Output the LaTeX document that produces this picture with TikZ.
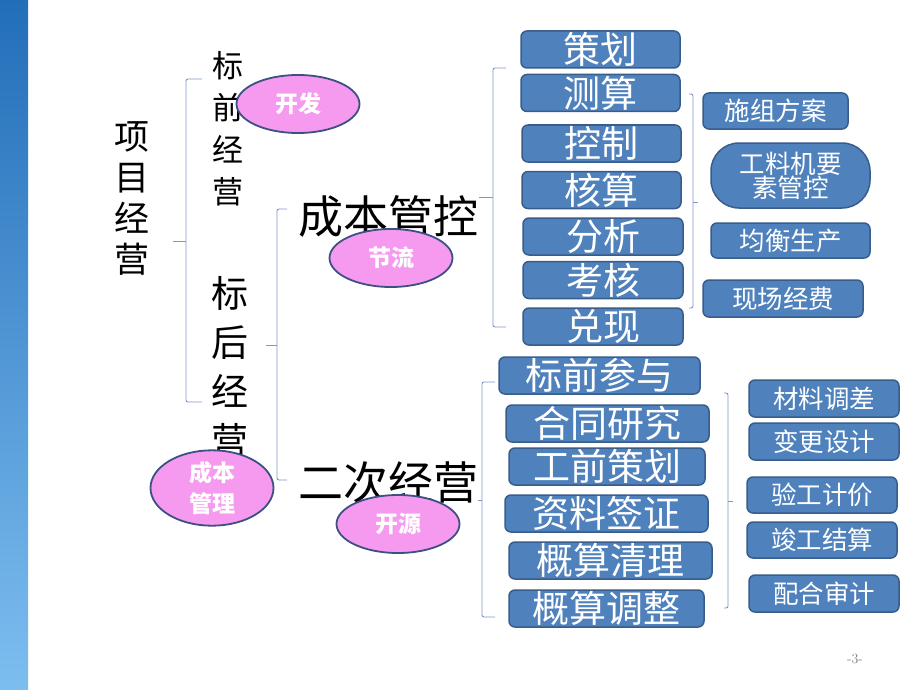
\documentclass[tikz,border=0pt]{standalone}
\usepackage{fontspec}
\newfontfamily\cjk{Noto Sans CJK SC}
\usepackage{xcolor}
\usetikzlibrary{shapes.geometric}
\definecolor{boxblue}{RGB}{79,129,189}
\definecolor{boxline}{RGB}{56,93,138}
\definecolor{bubblepink}{RGB}{246,154,240}
\definecolor{bubbleline}{RGB}{60,80,130}
\definecolor{braceblue}{RGB}{125,150,200}

\begin{document}
\begin{tikzpicture}[x=1pt,y=-1pt,
    cbox/.style={draw=boxline,fill=boxblue,line width=1.5pt,rounded corners=6pt,text=white,inner sep=0pt,
      minimum height=37pt,font=\cjk\fontsize{37}{37}\selectfont},
    sbox/.style={cbox,font=\cjk\fontsize{25.5}{25.5}\selectfont},
    bubble/.style={ellipse,draw=bubbleline,fill=bubblepink,line width=1.8pt,text=white,inner sep=0pt,
      minimum width=123pt,minimum height=58pt,align=center,font=\cjk\bfseries\fontsize{23}{31}\selectfont},
    bracket/.style={draw=braceblue,line width=0.9pt,rounded corners=2pt},
    bigword/.style={inner sep=0pt,font=\cjk\fontsize{45}{45}\selectfont}]
        \useasboundingbox (0,0) rectangle (920,690);
        \fill[white] (0,0) rectangle (920,690);

        % left strip
        \shade[top color={rgb,255:red,35;green,110;blue,185},middle color={rgb,255:red,70;green,150;blue,215},
          bottom color={rgb,255:red,125;green,190;blue,240}] (0,0) rectangle (28,690);

        % vertical titles
        \node[align=center,font=\cjk\fontsize{35}{41}\selectfont] (xmjy) at (132,199) {项\\目\\经\\营};
        \node[align=center,font=\cjk\fontsize{31}{42}\selectfont] (bqjy) at (228,129) {标\\前\\经\\营};
        \node[align=center,font=\cjk\fontsize{37}{49}\selectfont] (bhjy) at (230,367) {标\\后\\经\\营};

        % second level
        \node[bigword] (cbgk) at (388,216) {成本管控};
        \node[bigword] (ecjy) at (388,482) {二次经营};

        % brackets
        \draw[bracket] (202,79) -- (186,79) -- (186,402) -- (202,402);
        \draw[bracket] (186,241) -- (173,241);
        \draw[bracket] (287,209) -- (277,209) -- (277,480) -- (287,480);
        \draw[bracket] (277,345) -- (266,345);
        \draw[bracket] (506,68) -- (493,68) -- (493,327) -- (506,327);
        \draw[bracket] (493,197) -- (479,197);
        \draw[bracket] (689,94) -- (693,94) -- (693,308) -- (689,308);
        \draw[bracket] (693,202) -- (698,202);
        \draw[bracket] (495,382) -- (482,382) -- (482,617) -- (495,617);
        \draw[bracket] (482,500) -- (478,500);
        \draw[bracket] (724,393) -- (728,393) -- (728,608) -- (724,608);
        \draw[bracket] (728,501) -- (733,501);

        % cost control steps
        \node[cbox,minimum width=159pt] (ch) at (600.5,49.5) {策划};
        \node[cbox,minimum width=159pt] (cs) at (600.5,93) {测算};
        \node[cbox,minimum width=159pt] (kz) at (601.5,143.5) {控制};
        \node[cbox,minimum width=159pt] (hs) at (601.5,190) {核算};
        \node[cbox,minimum width=160pt] (fx) at (603,236.5) {分析};
        \node[cbox,minimum width=160pt] (kh) at (603,280) {考核};
        \node[cbox,minimum width=160pt] (dx) at (603,326.5) {兑现};

        \node[sbox,minimum width=145pt,minimum height=36pt] (szfa) at (775.5,111) {施组方案};
        \node[sbox,minimum width=159pt,minimum height=65pt,rounded corners=28pt,align=center,
          font=\cjk\fontsize{25.5}{24}\selectfont] (glj) at (790.5,175.5) {工料机要\\素管控};
        \node[sbox,minimum width=159pt,minimum height=35pt] (jhsc) at (790.5,240.5) {均衡生产};
        \node[sbox,minimum width=160pt] (xcjf) at (783,298.5) {现场经费};

        % second business steps
        \node[cbox,minimum width=201pt] (bqcy) at (599.5,375.5) {标前参与};
        \node[cbox,minimum width=203pt] (htyj) at (607.5,423.5) {合同研究};
        \node[cbox,minimum width=196pt] (gqch) at (607,466.5) {工前策划};
        \node[cbox,minimum width=203pt] (zlqz) at (606.5,513.5) {资料签证};
        \node[cbox,minimum width=203pt] (gsql) at (610.5,560.5) {概算清理};
        \node[cbox,minimum width=195pt] (gstz) at (606.5,608.5) {概算调整};

        \node[sbox,minimum width=150pt] (cltc) at (824,398.5) {材料调差};
        \node[sbox,minimum width=150pt] (bgsj) at (824,441.5) {变更设计};
        \node[sbox,minimum width=150pt,minimum height=36pt] (ygjj) at (822,495) {验工计价};
        \node[sbox,minimum width=150pt,minimum height=36pt] (jgjs) at (822,540) {竣工结算};
        \node[sbox,minimum width=150pt] (phsj) at (824,593.5) {配合审计};

        % bubbles
        \node[bubble] (kf) at (298,104) {开发};
        \node[bubble] (jl) at (391,258) {节流};
        \node[bubble] (cbgl) at (212,488) {成本\\管理};
        \node[bubble] (ky) at (398,524) {开源};

        % page number
        \node[text=gray,font=\fontsize{14}{14}\selectfont] (pageno) at (855,659) {-3-};
    \end{tikzpicture}
\end{document}
